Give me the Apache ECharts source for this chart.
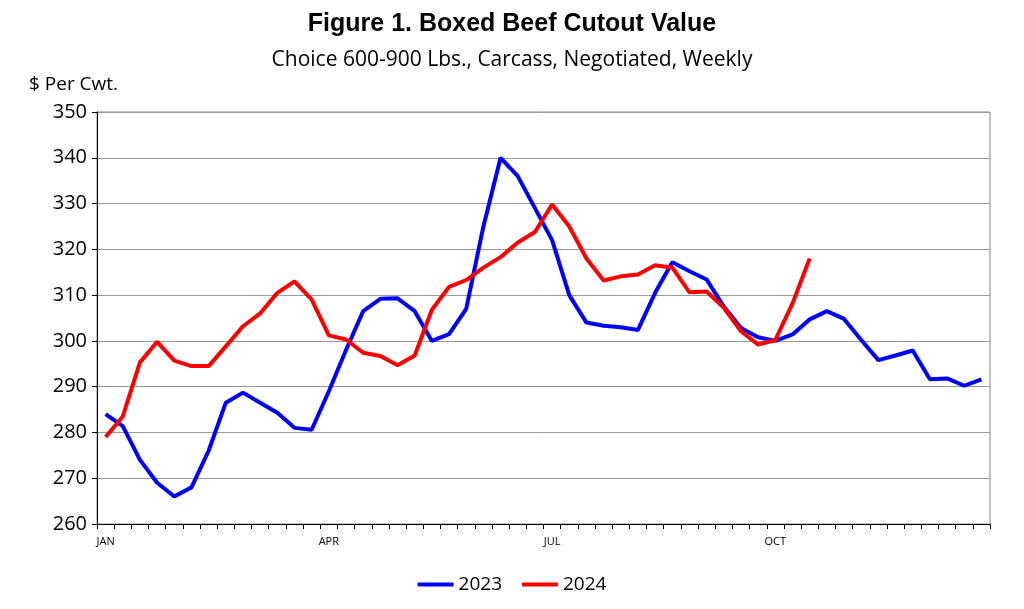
<!DOCTYPE html>
<html><head><meta charset="utf-8">
<script src="https://cdn.jsdelivr.net/npm/echarts@6/dist/echarts.min.js"></script>
<style>html,body{margin:0;background:#fff}#c{width:1024px;height:609px}</style>
</head><body><div id="c"></div>
<script>
var weeks = [];
for (var k = 0; k < 52; k++) weeks.push(k);
var monthLabels = {0:'JAN',13:'APR',26:'JUL',39:'OCT'};
var s2023 = [284,281.4,274,269,266,268,276,286.5,288.7,286.5,284.3,281,280.6,289,298,306.5,309.2,309.3,306.5,300,301.5,307,325,340,336,329,322,310,304,303.3,303,302.4,310.5,317.2,315.2,313.4,307.5,302.8,300.8,300,301.4,304.7,306.5,304.8,300.2,295.8,296.8,297.9,291.6,291.8,290.2,291.6];
var s2024 = [279,283.5,295.3,299.8,295.7,294.5,294.5,298.8,303.2,306,310.5,313,309,301.2,300.3,297.4,296.7,294.7,296.8,306.8,311.8,313.3,316,318.3,321.5,323.8,329.8,325,318,313.2,314.1,314.5,316.5,316,310.6,310.8,307.2,302.1,299.2,300.2,308.2,318];
var chart = echarts.init(document.getElementById('c'));
chart.setOption({
  animation:false,
  title:[{text:'Figure 1. Boxed Beef Cutout Value',left:'center',top:7,textStyle:{fontFamily:'Liberation Sans',fontSize:25,fontWeight:'bold',color:'#000'}},
         {text:'Choice 600-900 Lbs., Carcass, Negotiated, Weekly',left:'center',top:45,textStyle:{fontFamily:'Open Sans',fontSize:21,fontWeight:'normal',color:'#000'}},
         {text:'$ Per Cwt.',left:24,top:70,textStyle:{fontFamily:'Open Sans',fontSize:19,fontWeight:'normal',color:'#000'}}],
  legend:{bottom:10,left:'center',itemWidth:36,itemHeight:4,itemGap:20,icon:'rect',textStyle:{fontFamily:'Open Sans',fontSize:19,color:'#000'},data:['2023','2024']},
  grid:{left:97,right:34,top:112,bottom:85,show:true,borderColor:'#888',borderWidth:1},
  xAxis:{type:'category',data:weeks,boundaryGap:true,
    axisLine:{lineStyle:{color:'#000'}},
    axisTick:{show:true,interval:0,length:5,lineStyle:{color:'#000'}},
    axisLabel:{interval:0,fontFamily:'Open Sans',fontSize:11,color:'#000',margin:12,formatter:function(v,i){return monthLabels[i]||'';}}},
  yAxis:{type:'value',min:260,max:350,interval:10,
    axisLine:{show:true,lineStyle:{color:'#000'}},
    axisTick:{show:true,length:5,lineStyle:{color:'#000'}},
    splitLine:{lineStyle:{color:'#999'}},
    axisLabel:{fontFamily:'Open Sans',fontSize:20,color:'#000',margin:10}},
  series:[
    {name:'2023',type:'line',data:s2023,showSymbol:false,lineStyle:{color:'#0000ff',width:4},itemStyle:{color:'#0000ff'}},
    {name:'2024',type:'line',data:s2024,showSymbol:false,lineStyle:{color:'#ff0000',width:4},itemStyle:{color:'#ff0000'}}
  ]
});
</script></body></html>
